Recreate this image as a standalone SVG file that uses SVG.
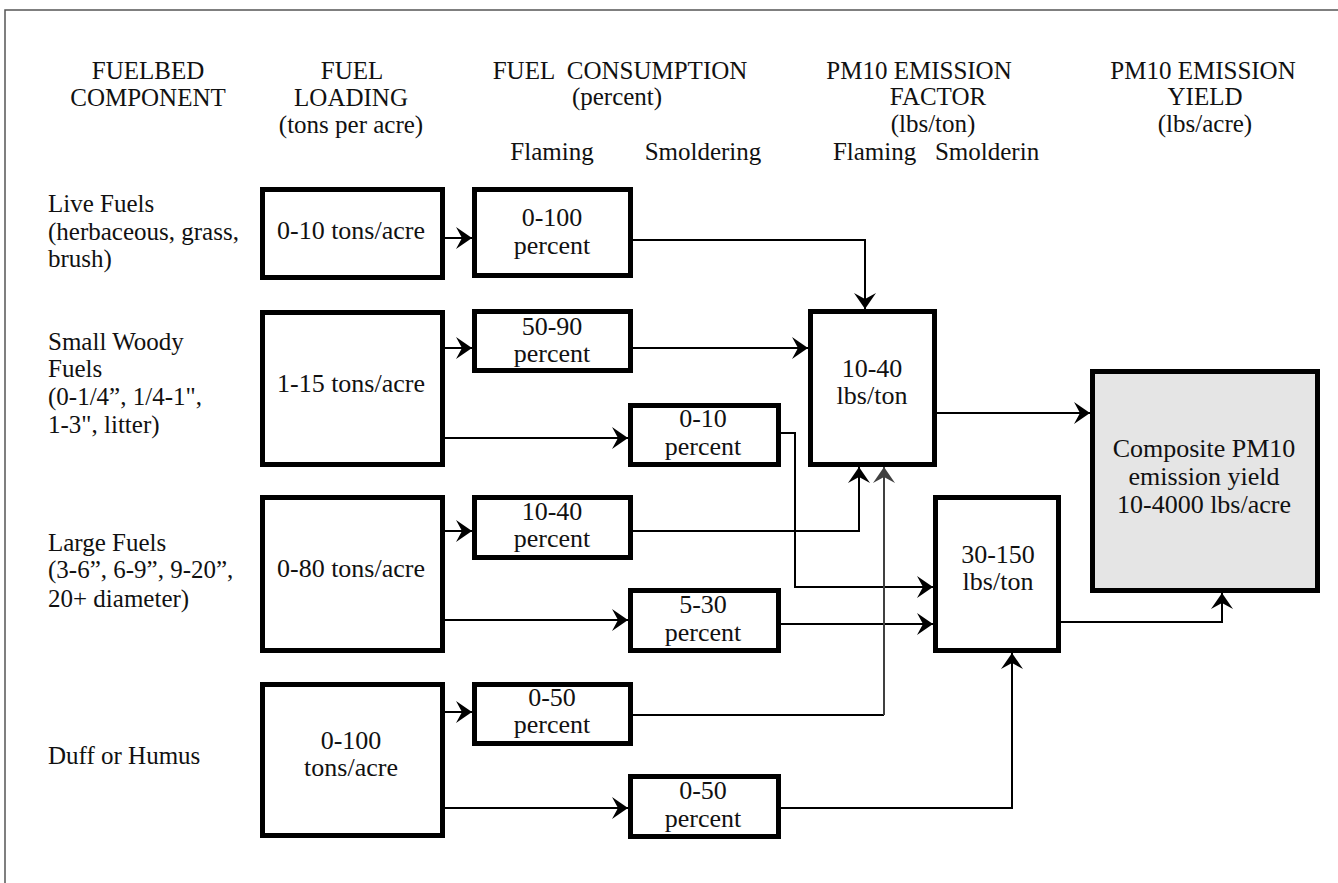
<svg xmlns="http://www.w3.org/2000/svg" width="1338" height="883" viewBox="0 0 1338 883" font-family="'Liberation Serif', Tinos, 'Times New Roman', Times, 'DejaVu Serif', serif">
<style>
text{font-family:'Liberation Serif', Tinos, 'Times New Roman', Times, 'DejaVu Serif', serif;fill:#111}
.h{font-size:25px;text-anchor:middle}
.l{font-size:25px}
.b{font-size:26px;text-anchor:middle}
.box{fill:#fff;stroke:#000;stroke-width:5}
.c{fill:none;stroke:#000;stroke-width:2}
</style>
<defs>
<marker id="ah" markerUnits="userSpaceOnUse" viewBox="-17 -12 18 24" markerWidth="18" markerHeight="24" refX="0" refY="0" orient="auto">
<path d="M0,0 L-16,-11 L-10,0 L-16,11 Z" fill="#000"/>
</marker>
<marker id="ahg" markerUnits="userSpaceOnUse" viewBox="-17 -12 18 24" markerWidth="18" markerHeight="24" refX="0" refY="0" orient="auto">
<path d="M0,0 L-16,-11 L-10,0 L-16,11 Z" fill="#404040"/>
</marker>
</defs>
<rect width="1338" height="883" fill="#fff"/>
<path d="M5,883 V10 H1338" fill="none" stroke="#555" stroke-width="1.5"/>
<g id="headers">
<text class="h" x="148" y="79">FUELBED</text>
<text class="h" x="148" y="106">COMPONENT</text>
<text class="h" x="352" y="79">FUEL</text>
<text class="h" x="351" y="106">LOADING</text>
<text class="h" x="351" y="133">(tons per acre)</text>
<text class="h" x="620" y="79" xml:space="preserve">FUEL  CONSUMPTION</text>
<text class="h" x="617" y="105">(percent)</text>
<text class="h" x="552" y="160">Flaming</text>
<text class="h" x="703" y="160">Smoldering</text>
<text class="h" x="919" y="79">PM10 EMISSION</text>
<text class="h" x="938" y="105">FACTOR</text>
<text class="h" x="933" y="132">(lbs/ton)</text>
<text class="h" x="936" y="160" xml:space="preserve">Flaming   Smolderin</text>
<text class="h" x="1203" y="79">PM10 EMISSION</text>
<text class="h" x="1205" y="105">YIELD</text>
<text class="h" x="1205" y="132">(lbs/acre)</text>
</g>
<g id="rowlabels">
<text class="l" x="48" y="212">Live Fuels</text>
<text class="l" x="48" y="240">(herbaceous, grass,</text>
<text class="l" x="48" y="267">brush)</text>
<text class="l" x="48" y="350">Small Woody</text>
<text class="l" x="48" y="377">Fuels</text>
<text class="l" x="48" y="405">(0-1/4”, 1/4-1",</text>
<text class="l" x="48" y="433">1-3", litter)</text>
<text class="l" x="48" y="551">Large Fuels</text>
<text class="l" x="48" y="578">(3-6”, 6-9”, 9-20”,</text>
<text class="l" x="48" y="607">20+ diameter)</text>
<text class="l" x="48" y="764">Duff or Humus</text>
</g>
<g id="connectors">
<path class="c" d="M445,238 H472" marker-end="url(#ah)"/>
<path class="c" d="M633,240 H865 V309" marker-end="url(#ah)"/>
<path class="c" d="M445,348 H472" marker-end="url(#ah)"/>
<path class="c" d="M633,348 H808" marker-end="url(#ah)"/>
<path class="c" d="M445,438 H628" marker-end="url(#ah)"/>
<path class="c" d="M781,433 H795 V587 H933" marker-end="url(#ah)"/>
<path class="c" d="M445,531 H472" marker-end="url(#ah)"/>
<path class="c" d="M633,531 H859 V467" marker-end="url(#ah)"/>
<path class="c" d="M445,620 H628" marker-end="url(#ah)"/>
<path class="c" d="M781,624 H933" marker-end="url(#ah)"/>
<path class="c" d="M445,712 H472" marker-end="url(#ah)"/>
<path class="c" d="M633,715 H884"/>
<path d="M884,715 V467" fill="none" stroke="#404040" stroke-width="2" marker-end="url(#ahg)"/>
<path class="c" d="M445,808 H628" marker-end="url(#ah)"/>
<path class="c" d="M781,808 H1012 V653" marker-end="url(#ah)"/>
<path class="c" d="M937,413 H1090" marker-end="url(#ah)"/>
<path class="c" d="M1061,622 H1222 V593" marker-end="url(#ah)"/>
</g>
<g id="load-live"><rect class="box" x="262.5" y="189.5" width="180" height="88"/><text class="b" x="351" y="239">0-10 tons/acre</text></g>
<g id="load-small"><rect class="box" x="262.5" y="312.5" width="180" height="152"/><text class="b" x="351" y="392">1-15 tons/acre</text></g>
<g id="load-large"><rect class="box" x="262.5" y="497.5" width="180" height="153"/><text class="b" x="351" y="577">0-80 tons/acre</text></g>
<g id="load-duff"><rect class="box" x="262.5" y="684.5" width="180" height="151"/><text class="b" x="351" y="749">0-100</text><text class="b" x="351" y="776">tons/acre</text></g>
<g id="cf-live"><rect class="box" x="474.5" y="189.5" width="156" height="86"/><text class="b" x="552" y="226">0-100</text><text class="b" x="552" y="254">percent</text></g>
<g id="cf-small"><rect class="box" x="474.5" y="311.5" width="156" height="59"/><text class="b" x="552" y="335">50-90</text><text class="b" x="552" y="362">percent</text></g>
<g id="cs-small"><rect class="box" x="630.5" y="405.5" width="148" height="59"/><text class="b" x="703" y="427">0-10</text><text class="b" x="703" y="455">percent</text></g>
<g id="cf-large"><rect class="box" x="474.5" y="497.5" width="156" height="60"/><text class="b" x="552" y="520">10-40</text><text class="b" x="552" y="547">percent</text></g>
<g id="cs-large"><rect class="box" x="630.5" y="590.5" width="148" height="60"/><text class="b" x="703" y="613">5-30</text><text class="b" x="703" y="641">percent</text></g>
<g id="cf-duff"><rect class="box" x="474.5" y="684.5" width="156" height="59"/><text class="b" x="552" y="706">0-50</text><text class="b" x="552" y="733">percent</text></g>
<g id="cs-duff"><rect class="box" x="630.5" y="776.5" width="148" height="60"/><text class="b" x="703" y="799">0-50</text><text class="b" x="703" y="827">percent</text></g>
<g id="ef-flaming"><rect class="box" x="810.5" y="311.5" width="124" height="153"/><text class="b" x="872" y="377">10-40</text><text class="b" x="872" y="404">lbs/ton</text></g>
<g id="ef-smoldering"><rect class="box" x="935.5" y="497.5" width="123" height="153"/><text class="b" x="998" y="563">30-150</text><text class="b" x="998" y="590">lbs/ton</text></g>
<g id="composite"><rect class="box" x="1092.5" y="371.5" width="225" height="219" style="fill:#e5e5e5"/><text class="b" x="1204" y="457">Composite PM10</text><text class="b" x="1204" y="485">emission yield</text><text class="b" x="1204" y="513">10-4000 lbs/acre</text></g>
</svg>
